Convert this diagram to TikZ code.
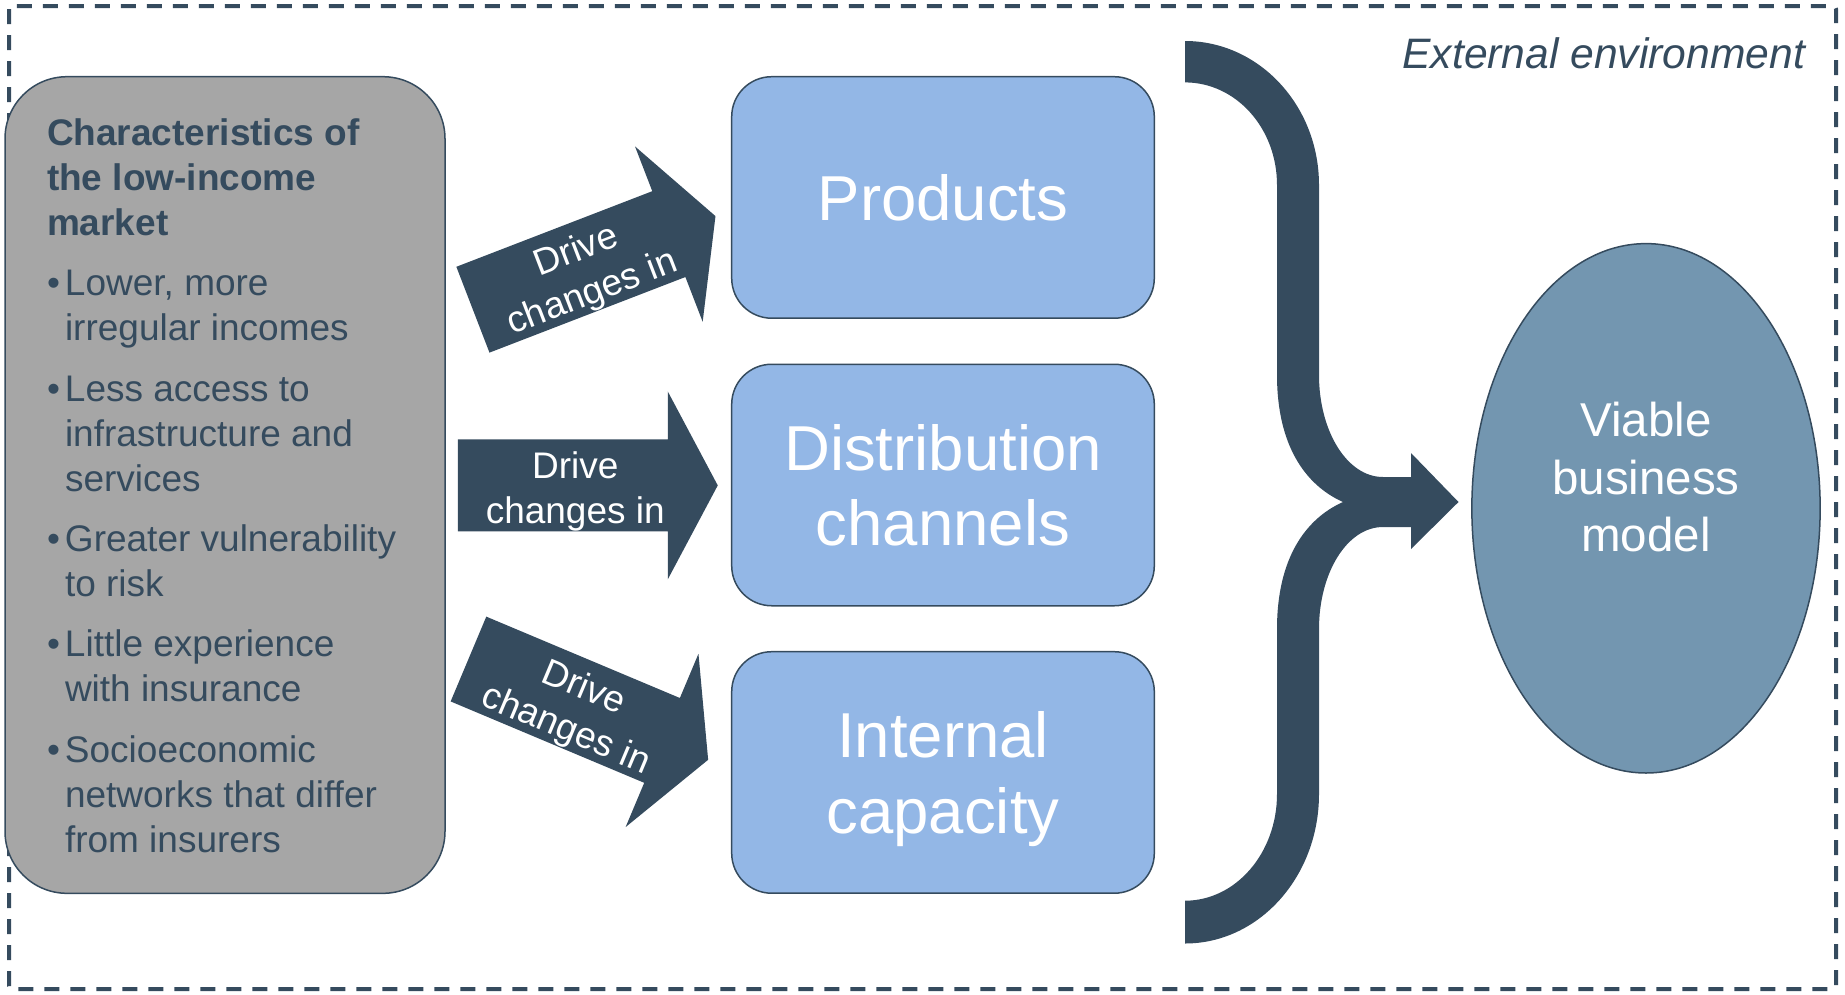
\documentclass[tikz,border=0pt]{standalone}
\usepackage{fontspec}
\setmainfont{Liberation Sans}
\usetikzlibrary{shapes.geometric}

\definecolor{slate}{HTML}{354B5E}
\definecolor{panelgray}{HTML}{A6A6A6}
\definecolor{boxblue}{HTML}{93B7E6}
\definecolor{steel}{HTML}{7396B0}

% bullet paragraph with hanging indent
\newcommand\bulletline{\par\hangindent=18pt\hangafter=1\noindent\makebox[18pt][l]{•}}
% block arrow outline, centred on the origin and pointing along +x
\newcommand\fatarrowpath{(-130,-46) -- (80,-46) -- (80,-94) -- (130,0)
    -- (80,94) -- (80,46) -- (-130,46) -- cycle}

\tikzset{
  every node/.style={inner sep=0pt, outer sep=0pt},
  panel/.style={draw=slate, line width=1.5pt, fill=panelgray, rounded corners=62pt,
    minimum width=440pt, minimum height=816.6pt},
  bluebox/.style={draw=slate, line width=1.5pt, fill=boxblue, rounded corners=40pt,
    minimum width=422.6pt, minimum height=241.5pt, text=white, align=center,
    font=\fontsize{63.5}{75.3}\selectfont, text depth=0pt},
  arrowtext/.style={text=white, align=center, font=\fontsize{37}{45}\selectfont,
    text depth=0pt, transform shape},
}

\begin{document}
\begin{tikzpicture}[x=1pt,y=-1pt]
\useasboundingbox (0,0) rectangle (1845,994);

% frame of the external environment
\draw[slate, line width=4pt, dash pattern=on 15pt off 11pt, rounded corners=3pt]
  (9,6) rectangle (1836,989);
\node[anchor=base east, text=slate, font=\fontsize{42.6}{50}\selectfont\itshape]
  (env) at (1805,68) {External environment};

% market characteristics panel
\node[panel] (market) at (225,485) {};
\node[anchor=base west, text=slate] (markettext) at (47,145.5) {\parbox[t]{390pt}{%
  \fontsize{37}{45}\selectfont\setlength{\parskip}{15.3pt}%
  \textbf{Characteristics of\\the low-income\\market}%
  \bulletline Lower, more\\irregular incomes%
  \bulletline Less access to\\infrastructure and\\services%
  \bulletline Greater vulnerability\\to risk%
  \bulletline Little experience\\with insurance%
  \bulletline Socioeconomic\\networks that differ\\from insurers}};

% the three areas of change
\node[bluebox] (products) at (943,197.45) {Products};
\node[bluebox] (distribution) at (943,485) {Distribution\\channels};
\node[bluebox] (capacity) at (943,772.45) {Internal\\capacity};

% block arrows from the panel to the boxes
\begin{scope}[shift={(594.2,262.9)}, rotate=21.1]
  \fill[slate] \fatarrowpath;
  \node[arrowtext] (drive1) at (-12.5,2) {Drive\\changes in};
\end{scope}
\begin{scope}[shift={(587.75,485.4)}]
  \fill[slate] \fatarrowpath;
  \node[arrowtext] (drive2) at (-12.5,2) {Drive\\changes in};
\end{scope}
\begin{scope}[shift={(588.3,709.4)}, rotate=-22.8]
  \fill[slate] \fatarrowpath;
  \node[arrowtext] (drive3) at (-12.5,2) {Drive\\changes in};
\end{scope}

% brace gathering the three boxes into one arrow
\fill[slate] (1185,41) .. controls (1259,41) and (1319,105.5) .. (1319,185)
  -- (1319,375) .. controls (1319,431) and (1347,477) .. (1383,477)
  -- (1411,477) -- (1411,453) -- (1458.5,502) -- (1411,549) -- (1411,527)
  -- (1383,527) .. controls (1347,527) and (1319,573) .. (1319,629)
  -- (1319,794) .. controls (1319,876.6) and (1259,943.5) .. (1185,943.5)
  -- (1185,900.7) .. controls (1235.8,900.7) and (1277,853) .. (1277,794)
  -- (1277,629) .. controls (1277,559) and (1305,519) .. (1343,502)
  .. controls (1305,485) and (1277,445) .. (1277,375)
  -- (1277,185) .. controls (1277,128) and (1235.8,82.4) .. (1185,82.4) -- cycle;

% outcome
\node[ellipse, draw=slate, line width=1.5pt, fill=steel,
  minimum width=348.3pt, minimum height=529.4pt] (model) at (1646,508.3) {};
\node[text=white, align=center, font=\fontsize{47.5}{57.7}\selectfont, text depth=0pt]
  (modeltext) at (1646,477) {Viable\\business\\model};
\end{tikzpicture}
\end{document}
